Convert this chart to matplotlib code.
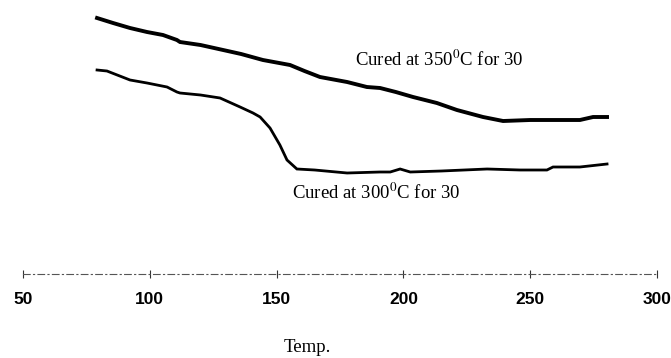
import matplotlib
matplotlib.use('Agg')
import matplotlib.pyplot as plt

# curves: temperature vs. relative signal (arbitrary units)
temp_350 = [79.2, 85.5, 92.2, 98.9, 105.2, 110.7, 111.9, 120.0, 128.9, 136.0,
            144.6, 155.3, 161.0, 167.1, 177.8, 185.6, 190.8, 197.0, 203.8, 213.2,
            221.1, 231.4, 239.3, 250.0, 260.0, 269.6, 274.8, 280.3]
sig_350 = [282, 277, 272, 268, 265, 260, 258, 255, 250, 246,
           240, 235, 229, 223, 218, 213, 212, 208, 203, 197,
           190, 183, 179, 180, 180, 180, 183, 183]

temp_300 = [79.2, 83.1, 92.2, 98.9, 106.8, 110.7, 111.9, 120.0, 127.7, 135.6,
            140.7, 143.5, 147.4, 151.3, 154.1, 158.0, 165.0, 177.8, 190.8, 194.8,
            198.7, 202.7, 215.0, 233.0, 246.0, 256.6, 259.0, 269.6, 280.3]
sig_300 = [230, 229, 220, 217, 213, 208, 207, 205, 202, 193,
           187, 183, 172, 155, 140, 131, 130, 127, 128, 128,
           131, 128, 129, 131, 130, 130, 133, 133, 136]

x_ticks = [50, 100, 150, 200, 250, 300]
label_350 = "Cured at 350$^{0}$C for 30"
label_300 = "Cured at 300$^{0}$C for 30"
x_label = "Temp."

plt.rcParams['mathtext.fontset'] = 'stix'

fig = plt.figure(figsize=(6.71, 3.58), dpi=100)
ax = fig.add_axes([23 / 671, 84 / 358, 634 / 671, 274 / 358])

ax.plot(temp_350, sig_350, color='black', lw=2.8, solid_joinstyle='miter')
ax.plot(temp_300, sig_300, color='black', lw=2.0, solid_joinstyle='miter')

ax.set_xlim(50, 300)
ax.set_ylim(26, 300)

for side in ('top', 'left', 'right'):
    ax.spines[side].set_visible(False)
ax.spines['bottom'].set_color('#555555')
ax.spines['bottom'].set_linewidth(0.8)
ax.spines['bottom'].set_linestyle((0, (6, 3, 1, 3)))

ax.set_yticks([])
ax.set_xticks(x_ticks)
ax.set_xticklabels([str(t) for t in x_ticks], fontfamily='Liberation Sans',
                   fontweight='bold', fontsize=12.5)
ax.tick_params(axis='x', direction='inout', length=6, width=0.8,
               color='#333333', pad=10)

fig.text(355 / 671, 1 - 60 / 358, label_350, fontfamily='Liberation Serif',
         fontsize=13.5, va='center', ha='left')
fig.text(292 / 671, 1 - 193 / 358, label_300, fontfamily='Liberation Serif',
         fontsize=13.5, va='center', ha='left')
fig.text(307 / 671, 1 - 348 / 358, x_label, fontfamily='Liberation Serif',
         fontsize=13.5, va='center', ha='center')

fig.savefig('out.png', dpi=100)
